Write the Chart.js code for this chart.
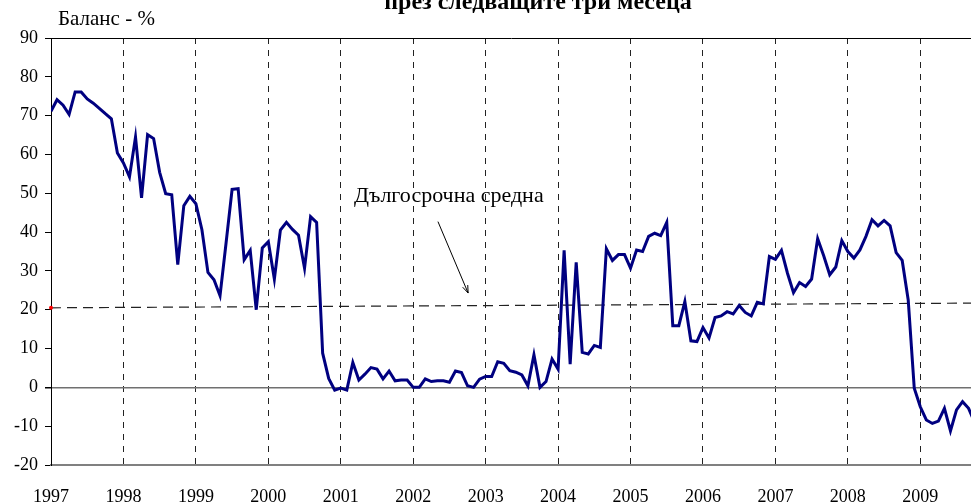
<!DOCTYPE html>
<html>
<head>
<meta charset="utf-8">
<script src="https://cdn.jsdelivr.net/npm/chart.js@4.4.1/dist/chart.umd.min.js"></script>
<style>
html, body { margin: 0; padding: 0; background: #fff; }
#wrap { width: 971px; height: 504px; position: relative; }
</style>
</head>
<body>
<div id="wrap"><canvas id="c"></canvas></div>
<script>
// данни - месечни стойности от януари 1997
const yearLabels = ['1997', '1998', '1999', '2000', '2001', '2002', '2003', '2004', '2005', '2006', '2007', '2008', '2009'];
const balance = [
    71.1, 74.1, 72.7, 70.3, 76.1, 76.1, 74.3, 73.2, 71.9, 70.5, 69.2, 60.4,
    57.8, 54.2, 64.5, 48.8, 65.1, 64.1, 55.4, 49.9, 49.6, 31.6, 46.8, 49.2,
    47.3, 40.6, 29.6, 27.7, 23.6, 37.2, 51.0, 51.2, 32.9, 35.3, 20.0, 35.9,
    37.5, 27.9, 40.5, 42.5, 40.7, 39.2, 30.7, 44.0, 42.5, 8.8, 2.3, -0.7,
    -0.2, -0.7, 6.4, 1.9, 3.4, 5.1, 4.7, 2.2, 4.2, 1.7, 1.9, 1.9,
    0.0, 0.0, 2.2, 1.5, 1.7, 1.7, 1.3, 4.2, 3.8, 0.4, 0.0, 2.1,
    2.8, 2.8, 6.6, 6.2, 4.3, 3.9, 3.2, 0.4, 8.4, 0.0, 1.5, 7.3,
    4.7, 35.3, 6.0, 32.2, 9.0, 8.6, 10.8, 10.3, 35.7, 32.7, 34.2, 34.2,
    30.7, 35.4, 35.0, 38.9, 39.7, 39.1, 42.5, 15.9, 15.9, 22.1, 12.0, 11.8,
    15.4, 12.7, 18.0, 18.4, 19.5, 18.9, 21.1, 19.3, 18.4, 21.9, 21.5, 33.7,
    33.0, 35.3, 29.4, 24.4, 27.0, 26.0, 27.9, 38.3, 33.9, 29.0, 31.0, 37.8,
    35.0, 33.3, 35.4, 38.9, 43.2, 41.6, 43.0, 41.6, 34.7, 32.7, 22.5, -0.2,
    -5.0, -8.4, -9.3, -8.7, -5.4, -11.2, -5.8, -3.7, -5.4, -9.0
];
const longTermAvg = [20.5, 21.7];
const lastMonth = 152.4;

const titleText = 'през следващите три месеца';
const yAxisTitle = 'Баланс - %';
const noteText = 'Дългосрочна средна';
const notePos = { x: 65.9, y: 49.3 };
const arrowFrom = { x: 64.1, y: 42.7 };
const arrowTo = { x: 69.1, y: 24.3 };

const serif = "'Liberation Serif', 'Times New Roman', serif";

const textPlugin = {
    id: 'texts',
    afterDraw(chart) {
        const ctx = chart.ctx;
        const xs = chart.scales.x, ys = chart.scales.y;
        ctx.save();
        ctx.fillStyle = '#000';
        // заглавие (отрязано отгоре)
        ctx.font = 'bold 24px ' + serif;
        ctx.textAlign = 'center';
        ctx.textBaseline = 'alphabetic';
        ctx.fillText(titleText, 538, 9);
        // надпис на оста
        ctx.font = '21px ' + serif;
        ctx.textAlign = 'left';
        ctx.fillText(yAxisTitle, 58, 25);
        // дългосрочна средна
        ctx.font = '22px ' + serif;
        ctx.textAlign = 'center';
        ctx.textBaseline = 'middle';
        ctx.fillText(noteText, xs.getPixelForValue(notePos.x), ys.getPixelForValue(notePos.y));
        // стрелка
        const x1 = xs.getPixelForValue(arrowFrom.x), y1 = ys.getPixelForValue(arrowFrom.y);
        const x2 = xs.getPixelForValue(arrowTo.x), y2 = ys.getPixelForValue(arrowTo.y);
        ctx.strokeStyle = '#000';
        ctx.lineWidth = 1;
        ctx.beginPath();
        ctx.moveTo(x1, y1);
        ctx.lineTo(x2, y2);
        const ang = Math.atan2(y2 - y1, x2 - x1);
        ctx.moveTo(x2, y2);
        ctx.lineTo(x2 - 8 * Math.cos(ang - 0.35), y2 - 8 * Math.sin(ang - 0.35));
        ctx.moveTo(x2, y2);
        ctx.lineTo(x2 - 8 * Math.cos(ang + 0.35), y2 - 8 * Math.sin(ang + 0.35));
        ctx.stroke();
        ctx.restore();
    }
};

new Chart(document.getElementById('c'), {
    type: 'line',
    data: {
        datasets: [{
            label: 'Баланс',
            data: balance.map((v, i) => ({ x: i, y: v })),
            borderColor: '#000080',
            borderWidth: 3,
            pointRadius: 0,
            pointHoverRadius: 0,
            tension: 0,
            order: 1
        }, {
            label: 'Дългосрочна средна',
            data: [{ x: 0, y: longTermAvg[0] }, { x: lastMonth, y: longTermAvg[1] }],
            borderColor: '#222',
            borderWidth: 1.2,
            borderDash: [10, 6],
            pointRadius: [2, 0],
            pointHoverRadius: 0,
            pointBackgroundColor: '#ff0000',
            pointBorderColor: '#ff0000',
            pointBorderWidth: 0,
            clip: false,
            order: 2
        }]
    },
    options: {
        responsive: true,
        maintainAspectRatio: false,
        animation: false,
        layout: { autoPadding: false, padding: { top: 38, right: 0, left: 0, bottom: 0 } },
        plugins: {
            legend: { display: false },
            tooltip: { enabled: false }
        },
        scales: {
            x: {
                type: 'linear',
                min: 0,
                max: lastMonth,
                afterFit: (scale) => {
                    scale.height = 39;
                    scale.paddingLeft = 0;
                    scale.paddingRight = 0;
                },
                ticks: {
                    stepSize: 12,
                    includeBounds: false,
                    autoSkip: false,
                    maxRotation: 0,
                    padding: 21,
                    color: '#000',
                    font: { family: serif, size: 18 },
                    callback: (v) => (v % 12 === 0 ? yearLabels[v / 12] : '')
                },
                grid: {
                    drawTicks: false,
                    color: (c) => (c.tick && c.tick.value === 0 ? 'rgba(0,0,0,0)' : '#222'),
                    lineWidth: 1
                },
                border: { display: true, color: '#808080', width: 2, dash: [6, 6] }
            },
            y: {
                min: -20,
                max: 90,
                afterFit: (scale) => { scale.width = 51; },
                ticks: {
                    stepSize: 10,
                    padding: 7,
                    color: '#000',
                    font: { family: serif, size: 18 }
                },
                grid: {
                    drawTicks: true,
                    tickLength: 6,
                    tickColor: '#000',
                    color: (c) => {
                        if (!c.tick) return 'rgba(0,0,0,0)';
                        if (c.tick.value === 0) return '#707070';
                        if (c.tick.value === 90) return '#000';
                        return 'rgba(0,0,0,0)';
                    },
                    lineWidth: (c) => (c.tick && c.tick.value === 0 ? 1.5 : 1)
                },
                border: { display: true, color: '#000', width: 1 }
            }
        }
    },
    plugins: [textPlugin]
});
</script>
</body>
</html>
